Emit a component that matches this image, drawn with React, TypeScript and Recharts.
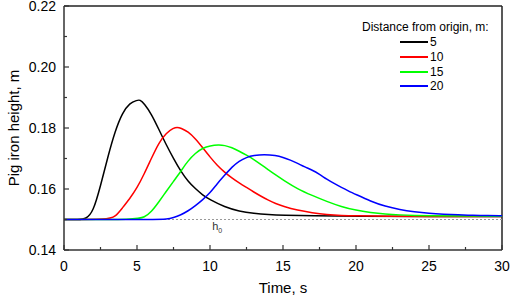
import { LineChart, Line, XAxis, YAxis, ReferenceLine, ReferenceDot, Legend } from 'recharts';

const FONT = '"Liberation Sans", Arial, sans-serif';

// distance 5 m
const times5 = [0, 1, 1.5, 2, 2.5, 3, 3.5, 4, 4.5, 5, 5.2, 5.5, 6, 6.5, 7, 7.5, 8, 8.5, 9, 9.5, 10, 11, 12, 13, 14, 15, 17, 20, 25, 30];
const height5 = [0.15, 0.15, 0.1501, 0.1525, 0.161, 0.1705, 0.179, 0.185, 0.1882, 0.1891, 0.1893, 0.188, 0.1845, 0.1795, 0.1745, 0.17, 0.1658, 0.1625, 0.1601, 0.158, 0.1565, 0.1541, 0.1527, 0.152, 0.1516, 0.1514, 0.1512, 0.1511, 0.151, 0.151];

// distance 10 m
const times10 = [0, 3, 3.5, 4, 4.5, 5, 5.5, 6, 6.5, 7, 7.5, 7.75, 8, 8.5, 9, 9.5, 10, 10.5, 11, 11.5, 12, 12.5, 13, 13.5, 14, 14.5, 15, 16, 17, 18, 19, 20, 22, 25, 30];
const height10 = [0.15, 0.15, 0.1508, 0.1538, 0.1568, 0.1603, 0.165, 0.1702, 0.1752, 0.1784, 0.18, 0.1803, 0.18, 0.1788, 0.1765, 0.1735, 0.1705, 0.1677, 0.1655, 0.1636, 0.162, 0.1605, 0.159, 0.1576, 0.1563, 0.1552, 0.1543, 0.153, 0.1522, 0.1516, 0.1513, 0.1512, 0.1511, 0.151, 0.151];

// distance 15 m
const times15 = [0, 5, 5.5, 6, 6.5, 7, 7.5, 8, 8.5, 9, 9.5, 10, 10.6, 11, 11.5, 12, 12.5, 13, 13.5, 14, 14.5, 15, 16, 17, 18, 19, 20, 21, 22, 23, 24, 25, 27, 30];
const height15 = [0.15, 0.15, 0.1507, 0.1526, 0.1558, 0.1592, 0.1625, 0.1658, 0.1693, 0.1718, 0.1734, 0.1742, 0.1745, 0.1743, 0.1736, 0.1724, 0.1711, 0.1697, 0.168, 0.1663, 0.1646, 0.163, 0.16, 0.1579, 0.1559, 0.1542, 0.153, 0.1523, 0.1518, 0.1515, 0.1513, 0.1512, 0.1511, 0.1511];

// distance 20 m
const times20 = [0, 6.5, 7, 7.5, 8, 8.5, 9, 9.5, 10, 10.5, 11, 11.5, 12, 12.5, 13, 13.7, 14.5, 15, 15.5, 16, 16.5, 17, 17.5, 18, 18.5, 19, 19.5, 20, 21, 22, 23, 24, 25, 26, 27, 28, 29, 30];
const height20 = [0.15, 0.15, 0.1501, 0.1506, 0.1515, 0.1528, 0.1545, 0.1565, 0.1587, 0.1618, 0.1645, 0.1672, 0.1692, 0.1704, 0.171, 0.1713, 0.171, 0.1704, 0.1695, 0.1684, 0.1672, 0.1662, 0.1648, 0.1632, 0.1618, 0.1605, 0.1593, 0.1582, 0.156, 0.1543, 0.1532, 0.1525, 0.152, 0.1517, 0.1515, 0.1514, 0.1513, 0.1512];

const xTicks = [0, 2.5, 5, 7.5, 10, 12.5, 15, 17.5, 20, 22.5, 25, 27.5, 30];
const yTicks = [0.14, 0.15, 0.16, 0.17, 0.18, 0.19, 0.2, 0.21, 0.22];
const baseLevel = 0.15;
const h0At = 10.15;

const toRows = (ts: number[], hs: number[]) => ts.map((t, i) => ({ t, h: hs[i] }));

const series = [
  { name: '5', color: '#000000', data: toRows(times5, height5) },
  { name: '10', color: '#ff0000', data: toRows(times10, height10) },
  { name: '15', color: '#00ff00', data: toRows(times15, height15) },
  { name: '20', color: '#0000ff', data: toRows(times20, height20) },
];

const Y_MARGIN = 8;
const X_MARGIN = 11;

function YTick(props: any) {
  const { x, y, payload } = props;
  const v = payload.value;
  const major = Math.round(v * 100) % 2 === 0;
  const ax = x + Y_MARGIN;
  return (
    <g>
      <line x1={ax} x2={ax + (major ? 5 : 3)} y1={y} y2={y} stroke="#333" strokeWidth={1.2} />
      {major && (
        <text x={x} y={y} dy="0.355em" textAnchor="end" fontSize={14} fontFamily={FONT} fill="#000">
          {v.toFixed(2)}
        </text>
      )}
    </g>
  );
}

function XTick(props: any) {
  const { x, y, payload } = props;
  const v = payload.value;
  const major = v % 5 === 0;
  const ay = y - X_MARGIN;
  return (
    <g>
      <line x1={x} x2={x} y1={ay} y2={ay - (major ? 5 : 3)} stroke="#333" strokeWidth={1.2} />
      {major && (
        <text x={x} y={y} dy="0.71em" textAnchor="middle" fontSize={14} fontFamily={FONT} fill="#000">
          {v}
        </text>
      )}
    </g>
  );
}

function H0Label(props: any) {
  const { viewBox } = props;
  const x = viewBox.x + viewBox.width / 2;
  const y = viewBox.y + viewBox.height / 2 + 10.5;
  return (
    <text x={x} y={y} fontSize={11} fontFamily={FONT} fill="#333">
      h<tspan fontSize={7} dy={3}>0</tspan>
    </text>
  );
}

function renderLegend() {
  return (
    <div style={{ fontFamily: FONT, fontSize: 12, color: '#000', width: 150 }}>
      <div style={{ height: 15, lineHeight: '15px', paddingLeft: 2, whiteSpace: 'nowrap' }}>
        Distance from origin, m:
      </div>
      {series.map((s) => (
        <div key={s.name} style={{ height: 14.7, display: 'flex', alignItems: 'center' }}>
          <div style={{ marginLeft: 40, width: 28, height: 2, background: s.color }} />
          <span style={{ marginLeft: 2, lineHeight: '14px' }}>{s.name}</span>
        </div>
      ))}
    </div>
  );
}

export default function App() {
  return (
    <div style={{ position: 'absolute', left: 0, top: 0, background: '#fff' }}>
      <LineChart width={510} height={297} margin={{ top: 6, right: 8, bottom: 0, left: 0 }}>
        <XAxis
          type="number"
          dataKey="t"
          domain={[0, 30]}
          ticks={xTicks}
          interval={0}
          allowDataOverflow
          height={47}
          tickSize={0}
          tickMargin={X_MARGIN}
          tick={<XTick />}
          axisLine={{ stroke: '#333', strokeWidth: 1.5 }}
          label={{
            content: (p: any) => (
              <text
                x={p.viewBox.x + p.viewBox.width / 2}
                y={p.viewBox.y + 43}
                textAnchor="middle"
                fontSize={15}
                fontFamily={FONT}
                fill="#000"
              >
                Time, s
              </text>
            ),
          }}
        />
        <YAxis
          type="number"
          dataKey="h"
          domain={[0.14, 0.22]}
          ticks={yTicks}
          interval={0}
          allowDataOverflow
          width={64}
          tickSize={0}
          tickMargin={Y_MARGIN}
          tick={<YTick />}
          axisLine={{ stroke: '#333', strokeWidth: 1.5 }}
          label={{
            content: (p: any) => {
              const cx = 13;
              const cy = p.viewBox.y + p.viewBox.height / 2;
              return (
                <text
                  x={cx}
                  y={cy}
                  transform={`rotate(-90 ${cx} ${cy})`}
                  textAnchor="middle"
                  dominantBaseline="central"
                  fontSize={15}
                  fontFamily={FONT}
                  fill="#000"
                >
                  Pig iron height, m
                </text>
              );
            },
          }}
        />
        <ReferenceLine y={0.22} stroke="#222" strokeWidth={1.5} />
        <ReferenceLine x={30} stroke="#222" strokeWidth={1.5} />
        <ReferenceLine y={baseLevel} stroke="#999" strokeWidth={1} strokeDasharray="2 2" />
        <ReferenceDot x={h0At} y={baseLevel} r={1} fill="none" stroke="none" label={<H0Label />} />
        {series.map((s) => (
          <Line
            key={s.name}
            data={s.data}
            dataKey="h"
            name={s.name}
            type="basis"
            stroke={s.color}
            strokeWidth={1.5}
            dot={false}
            isAnimationActive={false}
          />
        ))}
        <Legend
          layout="vertical"
          align="center"
          verticalAlign="middle"
          content={renderLegend}
          wrapperStyle={{ left: 360, top: 20, width: 150, height: 80 }}
        />
      </LineChart>
    </div>
  );
}
